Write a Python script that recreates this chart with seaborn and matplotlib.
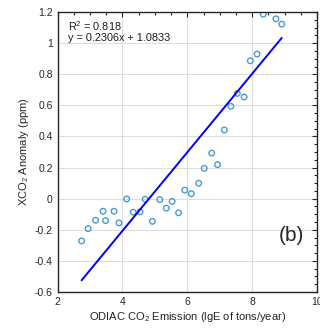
import numpy as np
import pandas as pd
import matplotlib
matplotlib.use("Agg")
import matplotlib.pyplot as plt
import seaborn as sns
from matplotlib.ticker import MultipleLocator

emission = [2.74, 2.94, 3.17, 3.40, 3.48, 3.74, 3.89, 4.13, 4.33, 4.54, 4.70,
            4.92, 5.15, 5.35, 5.53, 5.73, 5.92, 6.12, 6.35, 6.52, 6.75, 6.93,
            7.14, 7.34, 7.54, 7.75, 7.94, 8.15, 8.34, 8.73, 8.91]
anomaly = [-0.272, -0.193, -0.139, -0.081, -0.141, -0.081, -0.156, -0.002,
           -0.087, -0.085, -0.004, -0.146, -0.006, -0.061, -0.018, -0.091,
           0.055, 0.032, 0.099, 0.195, 0.293, 0.219, 0.442, 0.594, 0.677,
           0.654, 0.887, 0.930, 1.187, 1.157, 1.123]
# fitted line as drawn in the reference
fit_slope = 0.2528
fit_intercept = -1.218
x_ticks = [2, 4, 6, 8, 10]
y_ticks = [-0.6, -0.4, -0.2, 0, 0.2, 0.4, 0.6, 0.8, 1, 1.2]
y_tick_labels = ["-0.6", "-0.4", "-0.2", "0", "0.2", "0.4", "0.6", "0.8", "1", "1.2"]
stats_text = "R$^2$ = 0.818\ny = 0.2306x + 1.0833"
panel_label = "(b)"

df = pd.DataFrame({"emission": emission, "anomaly": anomaly})
line_x = np.array([min(emission), max(emission)])
line_df = pd.DataFrame({"emission": line_x, "fit": fit_slope * line_x + fit_intercept})

sns.set_style("white")
plt.rcParams["font.family"] = ["Liberation Sans", "DejaVu Sans"]
plt.rcParams["mathtext.fontset"] = "custom"
plt.rcParams["mathtext.rm"] = "Liberation Sans"

fig = plt.figure(figsize=(3.2, 3.28), dpi=100)
ax = fig.add_axes([0.180, 0.110, 0.811, 0.853])

sns.lineplot(data=line_df, x="emission", y="fit", ax=ax, color="#0000ff", lw=1.4)
sns.scatterplot(data=df, x="emission", y="anomaly", ax=ax, marker="o",
                facecolors="none", edgecolor="#4a9ad8", s=16, linewidth=1.0)

ax.set_xlim(2, 10)
ax.set_ylim(-0.6, 1.2)
ax.set_xticks(x_ticks)
ax.set_yticks(y_ticks)
ax.set_yticklabels(y_tick_labels)
ax.xaxis.set_minor_locator(MultipleLocator(0.5))
ax.yaxis.set_minor_locator(MultipleLocator(0.05))
ax.tick_params(which="both", direction="in", top=True, right=True,
               labelsize=7.5, colors="#262626", width=0.8)
ax.tick_params(which="major", length=3.5)
ax.tick_params(which="minor", length=2)
ax.grid(True, which="major", color="#dedede", lw=0.8)
ax.set_axisbelow(True)
for s in ax.spines.values():
    s.set_color("#262626")
    s.set_linewidth(1.0)

ax.set_xlabel("ODIAC CO$_2$ Emission (lgE of tons/year)", fontsize=8, color="#262626", labelpad=2)
ax.set_ylabel("XCO$_2$ Anomaly (ppm)", fontsize=8, color="#262626", labelpad=3)

ax.text(0.04, 0.975, stats_text, transform=ax.transAxes, ha="left", va="top",
        fontsize=7.8, color="#1a1a1a", linespacing=1.05)
ax.text(0.95, 0.20, panel_label, transform=ax.transAxes, ha="right", va="center",
        fontsize=15, color="#262626")

fig.savefig("out.png", dpi=100)
